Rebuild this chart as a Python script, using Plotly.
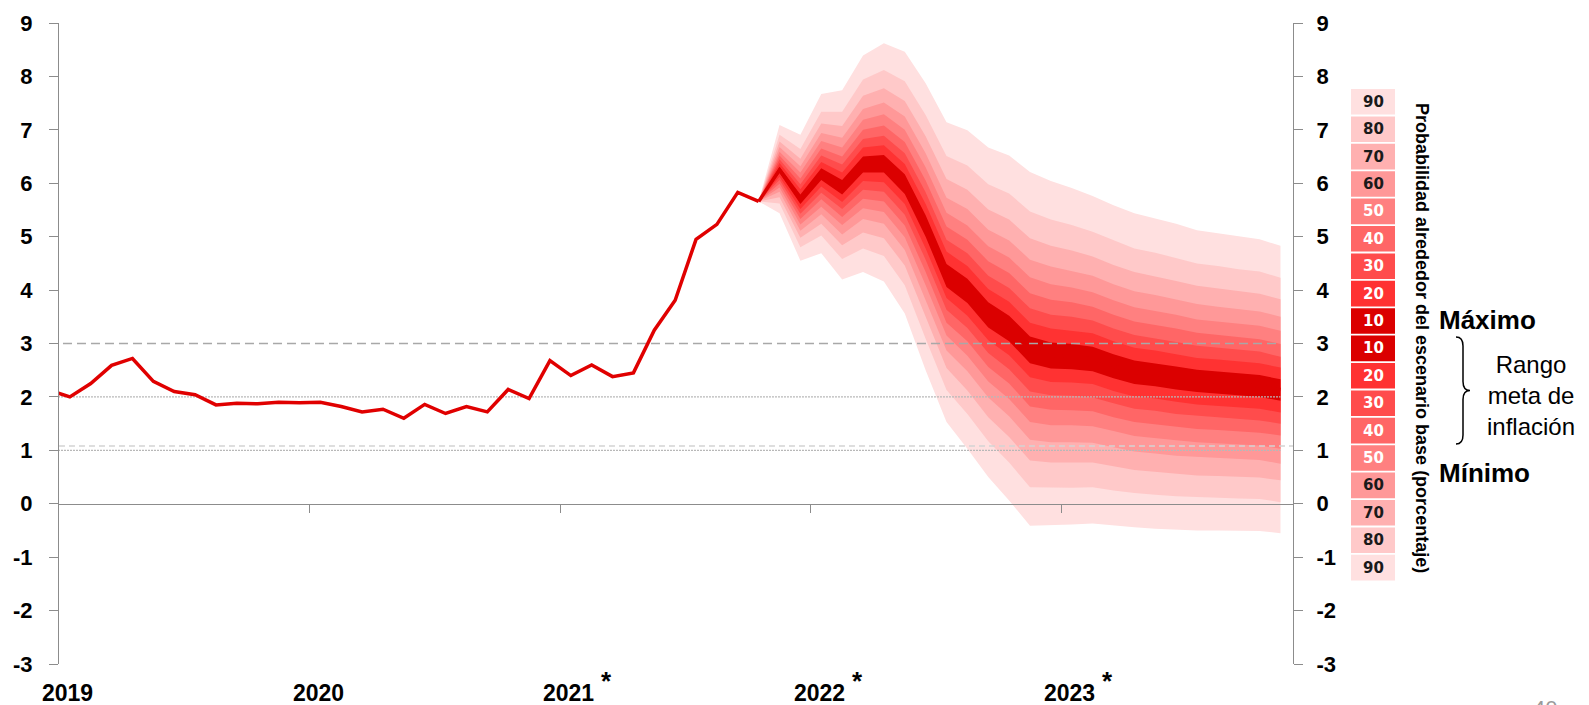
import plotly.graph_objects as go

# ---------------- data ----------------
# month index: 0 = Jan 2019 ... 59 = Dec 2023
hist_idx = list(range(0, 35))
hist_vals = [2.13, 2.00, 2.25, 2.59, 2.72, 2.29, 2.10, 2.04, 1.85, 1.88, 1.87, 1.90,
             1.89, 1.90, 1.82, 1.72, 1.77, 1.60, 1.86, 1.69, 1.82, 1.72, 2.14, 1.97,
             2.68, 2.40, 2.60, 2.38, 2.45, 3.25, 3.81, 4.95, 5.23, 5.83, 5.66]

proj_idx = list(range(34, 60))
center = [5.66, 6.25, 5.70, 6.17, 5.92, 6.35, 6.36, 5.98, 5.20, 4.27, 3.98, 3.53, 3.28,
          2.88, 2.77, 2.76, 2.72, 2.58, 2.46, 2.42, 2.35, 2.30, 2.27, 2.24, 2.20, 2.14]

up10 = [5.66, 6.31, 5.79, 6.28, 6.06, 6.50, 6.53, 6.17, 5.40, 4.49, 4.21, 3.77, 3.52, 3.13, 3.02, 2.99, 2.94, 2.80, 2.68, 2.63, 2.57, 2.51, 2.48, 2.44, 2.41, 2.33]
up20 = [5.66, 6.38, 5.89, 6.40, 6.20, 6.67, 6.71, 6.36, 5.61, 4.72, 4.45, 4.02, 3.78, 3.39, 3.28, 3.24, 3.19, 3.04, 2.92, 2.87, 2.80, 2.73, 2.70, 2.66, 2.63, 2.55]
up30 = [5.66, 6.45, 5.98, 6.52, 6.35, 6.83, 6.89, 6.56, 5.83, 4.94, 4.69, 4.27, 4.04, 3.66, 3.54, 3.50, 3.43, 3.28, 3.16, 3.10, 3.03, 2.96, 2.92, 2.89, 2.85, 2.75]
up40 = [5.66, 6.52, 6.09, 6.65, 6.50, 7.00, 7.08, 6.77, 6.05, 5.19, 4.94, 4.54, 4.32, 3.94, 3.82, 3.77, 3.69, 3.54, 3.41, 3.35, 3.28, 3.20, 3.16, 3.12, 3.08, 2.99]
up50 = [5.66, 6.59, 6.20, 6.79, 6.67, 7.19, 7.29, 7.00, 6.30, 5.45, 5.21, 4.82, 4.61, 4.24, 4.11, 4.05, 3.96, 3.81, 3.68, 3.61, 3.54, 3.45, 3.41, 3.37, 3.33, 3.24]
up60 = [5.66, 6.68, 6.32, 6.94, 6.85, 7.39, 7.51, 7.25, 6.56, 5.73, 5.52, 5.13, 4.93, 4.57, 4.44, 4.36, 4.27, 4.11, 3.98, 3.91, 3.82, 3.74, 3.69, 3.65, 3.60, 3.50]
up70 = [5.66, 6.78, 6.46, 7.12, 7.07, 7.64, 7.78, 7.54, 6.88, 6.08, 5.88, 5.51, 5.32, 4.97, 4.83, 4.74, 4.63, 4.47, 4.34, 4.26, 4.17, 4.08, 4.03, 3.98, 3.93, 3.83]
up80 = [5.66, 6.91, 6.64, 7.34, 7.34, 7.94, 8.12, 7.91, 7.28, 6.51, 6.33, 5.98, 5.81, 5.47, 5.32, 5.22, 5.09, 4.93, 4.78, 4.70, 4.60, 4.50, 4.45, 4.39, 4.35, 4.23]
up90 = [5.66, 7.09, 6.91, 7.67, 7.74, 8.39, 8.62, 8.46, 7.87, 7.14, 6.99, 6.67, 6.52, 6.21, 6.04, 5.91, 5.76, 5.59, 5.44, 5.34, 5.24, 5.12, 5.06, 5.00, 4.95, 4.83]

lo10 = [5.66, 6.19, 5.61, 6.06, 5.79, 6.20, 6.20, 5.80, 5.00, 4.06, 3.76, 3.30, 3.04, 2.63, 2.53, 2.52, 2.48, 2.35, 2.24, 2.20, 2.14, 2.09, 2.06, 2.03, 2.00, 1.93]
lo20 = [5.66, 6.12, 5.52, 5.94, 5.65, 6.04, 6.02, 5.61, 4.78, 3.85, 3.52, 3.06, 2.78, 2.37, 2.28, 2.27, 2.24, 2.11, 2.01, 1.97, 1.91, 1.86, 1.84, 1.81, 1.78, 1.71]
lo30 = [5.66, 6.06, 5.43, 5.82, 5.52, 5.88, 5.84, 5.41, 4.57, 3.63, 3.29, 2.82, 2.52, 2.10, 2.03, 2.02, 1.99, 1.88, 1.78, 1.74, 1.68, 1.64, 1.62, 1.59, 1.56, 1.50]
lo40 = [5.66, 5.99, 5.33, 5.70, 5.37, 5.71, 5.66, 5.21, 4.34, 3.39, 3.04, 2.56, 2.25, 1.82, 1.76, 1.75, 1.73, 1.62, 1.53, 1.49, 1.44, 1.40, 1.38, 1.36, 1.33, 1.28]
lo50 = [5.66, 5.92, 5.23, 5.56, 5.22, 5.53, 5.46, 4.99, 4.09, 3.15, 2.77, 2.29, 1.96, 1.53, 1.47, 1.47, 1.45, 1.36, 1.27, 1.23, 1.19, 1.15, 1.13, 1.11, 1.09, 1.03]
lo60 = [5.66, 5.84, 5.11, 5.42, 5.04, 5.33, 5.24, 4.75, 3.82, 2.87, 2.48, 1.99, 1.64, 1.20, 1.15, 1.15, 1.14, 1.06, 0.98, 0.94, 0.90, 0.87, 0.86, 0.84, 0.82, 0.75]
lo70 = [5.66, 5.74, 4.98, 5.24, 4.84, 5.08, 4.97, 4.46, 3.50, 2.54, 2.12, 1.62, 1.25, 0.81, 0.77, 0.77, 0.77, 0.70, 0.63, 0.60, 0.56, 0.53, 0.52, 0.51, 0.49, 0.44]
lo80 = [5.66, 5.62, 4.80, 5.02, 4.58, 4.78, 4.64, 4.09, 3.09, 2.13, 1.68, 1.17, 0.77, 0.31, 0.30, 0.30, 0.31, 0.25, 0.20, 0.17, 0.14, 0.12, 0.11, 0.10, 0.09, 0.03]
lo90 = [5.66, 5.44, 4.55, 4.69, 4.20, 4.34, 4.16, 3.56, 2.50, 1.53, 1.03, 0.50, 0.06, -0.41, -0.40, -0.39, -0.37, -0.40, -0.44, -0.47, -0.49, -0.50, -0.50, -0.50, -0.51, -0.55]

band_levels = [90, 80, 70, 60, 50, 40, 30, 20, 10]
band_upper = {90: up90, 80: up80, 70: up70, 60: up60, 50: up50, 40: up40, 30: up30, 20: up20, 10: up10}
band_lower = {90: lo90, 80: lo80, 70: lo70, 60: lo60, 50: lo50, 40: lo40, 30: lo30, 20: lo20, 10: lo10}

target_max = 3.0
target_mid = 2.0
target_min = 1.0
target_min_alt = 1.08

y_ticks = list(range(-3, 10))
y_tick_text = ["-3", "-2", "-1", "0", "1", "2", "3", "4", "5", "6", "7", "8", "9"]

year_labels = ["2019", "2020", "2021", "2022", "2023"]
year_label_pos = [0.9, 12.9, 24.9, 36.9, 48.9]
year_ticks = [12.5, 24.5, 36.5, 48.5]
starred_years = ["2021", "2022", "2023"]

scale_labels = ["90", "80", "70", "60", "50", "40", "30", "20", "10",
                "10", "20", "30", "40", "50", "60", "70", "80", "90"]

# ---------------- styling ----------------
band_colors = {90: "#FFE0E0", 80: "#FFC9C9", 70: "#FFB0B0", 60: "#FF9898", 50: "#FF8080",
               40: "#FF6666", 30: "#FF4C4C", 20: "#FF3232", 10: "#DB0000"}
line_red = "#E00000"
axis_grey = "#8C8C8C"
FONT = "Liberation Sans, Arial, sans-serif"

W, H = 1589, 705
ML, MR, MT, MB = 59, 296, 23, 41
PW = W - ML - MR
PH = H - MT - MB


def px(x):
    return (x - ML) / PW


def py(y):
    return (H - MB - y) / PH


fig = go.Figure()

# fan bands, outermost first
for lvl in band_levels:
    up = band_upper[lvl]
    lo = band_lower[lvl]
    fig.add_trace(go.Scatter(
        x=proj_idx + proj_idx[::-1],
        y=up + lo[::-1],
        fill="toself", fillcolor=band_colors[lvl],
        mode="lines", line=dict(width=0, color=band_colors[lvl]),
        hoverinfo="skip", showlegend=False))

# target range reference lines
n_ref = proj_idx[-1]
fig.add_trace(go.Scatter(x=[0, n_ref], y=[target_max] * 2, mode="lines",
                         line=dict(color="#A8A8A8", width=1.4, dash="9px,5px"),
                         hoverinfo="skip", showlegend=False))
fig.add_trace(go.Scatter(x=[0, n_ref], y=[target_mid] * 2, mode="lines",
                         line=dict(color="#B8B8B8", width=1.2, dash="2px,1px"),
                         hoverinfo="skip", showlegend=False))
fig.add_trace(go.Scatter(x=[0, n_ref], y=[target_min] * 2, mode="lines",
                         line=dict(color="#B8B8B8", width=1.2, dash="2px,1px"),
                         hoverinfo="skip", showlegend=False))
fig.add_trace(go.Scatter(x=[0, 60], y=[target_min_alt] * 2, mode="lines", yaxis="y2",
                         line=dict(color="#D4D4D4", width=1.4, dash="6px,4px"),
                         hoverinfo="skip", showlegend=False))

# central projection and observed series
fig.add_trace(go.Scatter(x=proj_idx, y=center, mode="lines",
                         line=dict(color=band_colors[10], width=3.5),
                         hoverinfo="skip", showlegend=False))
fig.add_trace(go.Scatter(x=hist_idx, y=hist_vals, mode="lines",
                         line=dict(color=line_red, width=3.5),
                         hoverinfo="skip", showlegend=False))


def y_axis(side, standoff):
    return dict(
        side=side, range=[-3, 9], tickmode="array", tickvals=y_ticks, ticktext=y_tick_text,
        showgrid=False, zeroline=False,
        showline=True, linecolor=axis_grey, linewidth=1.3,
        ticks="outside", ticklen=9, tickwidth=1.3, tickcolor=axis_grey,
        tickfont=dict(family=FONT, size=22, color="#000000", weight="bold"),
        ticklabelstandoff=standoff, fixedrange=True,
    )


shapes = []
annotations = []

# probability scale
cell_top, cell_pitch, cell_h = 89, 27.4, 25.6
cell_x0, cell_x1 = 1351, 1395
for i, lab in enumerate(scale_labels):
    lvl = int(lab)
    y0 = cell_top + i * cell_pitch
    shapes.append(dict(type="rect", xref="paper", yref="paper",
                       x0=px(cell_x0), x1=px(cell_x1), y0=py(y0), y1=py(y0 + cell_h),
                       fillcolor=band_colors[lvl], line=dict(width=0), layer="above"))
    annotations.append(dict(
        text=f"<b>{lab}</b>", xref="paper", yref="paper",
        x=px((cell_x0 + cell_x1) / 2), y=py(y0 + cell_h / 2),
        xanchor="center", yanchor="middle", showarrow=False,
        font=dict(family="DejaVu Sans, Verdana, sans-serif", size=15,
                  color="#1A1A1A" if lvl >= 60 else "#FFFFFF")))

annotations.append(dict(
    text="<b>Probabilidad alrededor del escenario base (porcentaje)</b>",
    xref="paper", yref="paper", x=px(1422), y=py(338), textangle=90,
    xanchor="center", yanchor="middle", showarrow=False,
    font=dict(family=FONT, size=18, color="#000000")))

annotations.append(dict(text="<b>Máximo</b>", xref="paper", yref="paper",
                        x=px(1437), y=py(320), xanchor="left", yanchor="middle",
                        showarrow=False, font=dict(family=FONT, size=26, color="#000000")))
annotations.append(dict(text="<b>Mínimo</b>", xref="paper", yref="paper",
                        x=px(1437), y=py(473), xanchor="left", yanchor="middle",
                        showarrow=False, font=dict(family=FONT, size=26, color="#000000")))
annotations.append(dict(text="Rango<br>meta de<br>inflación", xref="paper", yref="paper",
                        x=px(1531), y=py(395), xanchor="center", yanchor="middle",
                        showarrow=False, align="center",
                        font=dict(family=FONT, size=24, color="#000000")))

# curly brace next to the target range text
bx0, bw, byt, byb, br = 1456, 14, 337, 444, 9
bym = (byt + byb) / 2
bxm = bx0 + bw / 2
pts = [
    f"M {px(bx0)},{py(byt)}",
    f"Q {px(bxm)},{py(byt)} {px(bxm)},{py(byt + br)}",
    f"L {px(bxm)},{py(bym - br)}",
    f"Q {px(bxm)},{py(bym)} {px(bx0 + bw)},{py(bym)}",
    f"Q {px(bxm)},{py(bym)} {px(bxm)},{py(bym + br)}",
    f"L {px(bxm)},{py(byb - br)}",
    f"Q {px(bxm)},{py(byb)} {px(bx0)},{py(byb)}",
]
shapes.append(dict(type="path", xref="paper", yref="paper", path=" ".join(pts),
                   line=dict(color="#000000", width=1.5)))

# year labels under the axis
for lab, pos in zip(year_labels, year_label_pos):
    annotations.append(dict(text=f"<b>{lab}</b>", xref="x", yref="paper",
                            x=pos, y=py(693), xanchor="center", yanchor="middle",
                            showarrow=False, font=dict(family=FONT, size=23, color="#000000")))
    if lab in starred_years:
        annotations.append(dict(text="<b>*</b>", xref="x", yref="paper",
                                x=pos, y=py(681), xshift=38, xanchor="center", yanchor="middle",
                                showarrow=False, font=dict(family=FONT, size=26, color="#000000")))

# page number, partly below the page edge
annotations.append(dict(text="40", xref="paper", yref="paper", x=px(1545), y=py(694),
                        xanchor="center", yanchor="top", showarrow=False,
                        font=dict(family=FONT, size=22, color="#9A9A9A")))

fig.update_layout(
    width=W, height=H,
    margin=dict(l=ML, r=MR, t=MT, b=MB, pad=0),
    paper_bgcolor="#FFFFFF", plot_bgcolor="#FFFFFF",
    showlegend=False, hovermode=False,
    xaxis=dict(range=[0.48, 59.6], anchor="free", position=0.25,
               showgrid=False, zeroline=False, showline=True, linecolor=axis_grey, linewidth=1.3,
               tickmode="array", tickvals=year_ticks, ticks="outside", ticklen=8, tickwidth=1.3,
               tickcolor=axis_grey, showticklabels=False, fixedrange=True),
    yaxis=y_axis("left", 12),
    yaxis2=dict(overlaying="y", **y_axis("right", 9)),
    shapes=shapes,
    annotations=annotations,
)

fig.write_html("out.html")
